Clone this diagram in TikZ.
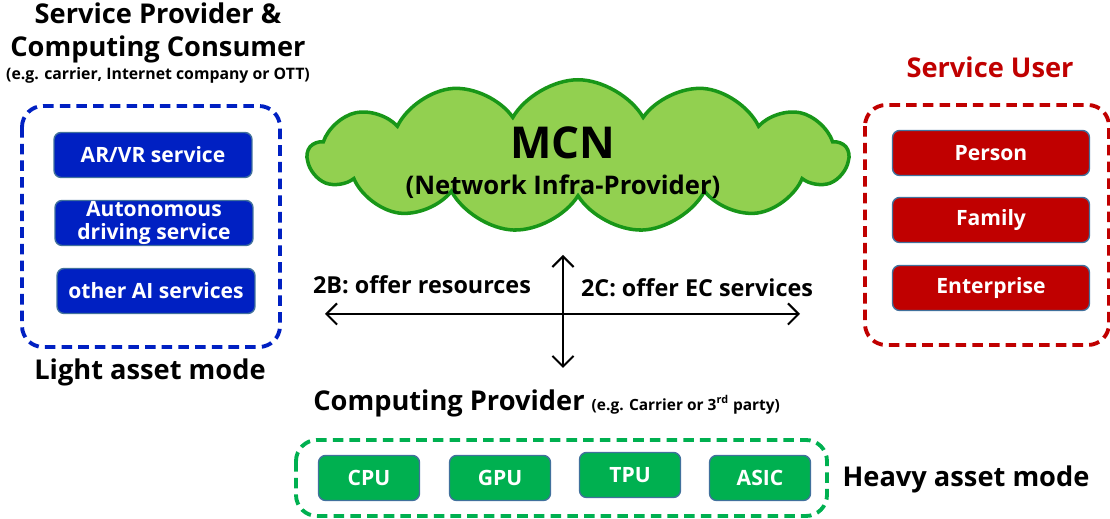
\documentclass[tikz,border=0pt]{standalone}
\usepackage{fontspec}
\setmainfont{Open Sans}
\usetikzlibrary{shapes.symbols}
\usetikzlibrary{arrows.meta}
\definecolor{svcblue}{RGB}{0,32,194}
\definecolor{userred}{RGB}{192,0,0}
\definecolor{hwgreen}{RGB}{0,176,80}
\definecolor{cloudfill}{RGB}{146,208,80}
\definecolor{cloudedge}{RGB}{24,150,24}
\definecolor{boxedge}{RGB}{65,113,156}
\tikzstyle{box}=[draw=boxedge, line width=0.8pt, rounded corners=4pt, text=white, align=center, font=\bfseries\fontsize{12}{13.5}\selectfont, minimum height=0.9cm, inner sep=0pt]
\tikzstyle{svcbox}=[box, fill=svcblue, minimum width=3.96cm]
\tikzstyle{userbox}=[box, fill=userred, minimum width=3.94cm]
\tikzstyle{hwbox}=[box, fill=hwgreen, minimum width=2.02cm]
\tikzstyle{group}=[line width=2.2pt, dash pattern=on 6pt off 3.5pt, rounded corners=12pt]
\tikzstyle{head}=[font=\bfseries\fontsize{15.5}{18.7}\selectfont, align=center]
\tikzstyle{note}=[font=\bfseries\fontsize{9}{10}\selectfont]
\tikzstyle{flowlabel}=[font=\bfseries\fontsize{13.3}{15}\selectfont]
\tikzstyle{flow}=[line width=1.2pt, {Straight Barb[length=6pt,width=12pt]}-{Straight Barb[length=6pt,width=12pt]}]

\begin{document}
\begin{tikzpicture}[x=0.02cm, y=-0.02cm]
        \useasboundingbox (0,0) rectangle (1110,519);
        % service provider side
        \node[head] (provtitle) at (158,33) {Service Provider \&\\Computing Consumer};
        \node[note] (provnote) at (158,75) {(e.g. carrier, Internet company or OTT)};
        \draw[group, draw=svcblue] (22,106) rectangle (280,347);
        \node[svcbox] (arvr) at (153,155) {AR/VR service};
        \node[svcbox] (auto) at (154,223) {Autonomous\\driving service};
        \node[svcbox] (otherai) at (156,291) {other AI services};
        \node[head] (light) at (150,372) {Light asset mode};
        % network in the middle
        \node[cloud, cloud puffs=13, cloud puff arc=120, aspect=3.6, draw=cloudedge, line width=2pt, fill=cloudfill, minimum width=10.8cm, minimum height=3.05cm, inner sep=0pt] (mcn) at (578,156) {};
        \node[font=\bfseries\fontsize{25}{30}\selectfont] (mcnname) at (563,143) {MCN};
        \node[font=\bfseries\fontsize{14.6}{16}\selectfont] (mcnrole) at (563,187) {(Network Infra-Provider)};
        \coordinate (up) at (563,255);
        \coordinate (down) at (563,368);
        \coordinate (left) at (325,314);
        \coordinate (right) at (800,314);
        \draw[flow] (up) -- (down);
        \draw[flow] (left) -- (right);
        \node[flowlabel] (tob) at (422,285) {2B: offer resources};
        \node[flowlabel] (toc) at (697,288) {2C: offer EC services};
        % computing provider
        \node[head, anchor=west, inner sep=0pt] (comptitle) at (313,403) {Computing Provider {\fontsize{8.8}{10}\selectfont (e.g. Carrier or 3\textsuperscript{rd} party)}};
        \draw[group, draw=hwgreen] (296,440) rectangle (827,516);
        \node[hwbox] (cpu) at (369,478) {CPU};
        \node[hwbox] (gpu) at (500,478) {GPU};
        \node[hwbox] (tpu) at (630,475) {TPU};
        \node[hwbox] (asic) at (760,478) {ASIC};
        \node[head] (heavy) at (966,479) {Heavy asset mode};
        % service user side
        \node[head, text=userred] (usertitle) at (990,67) {Service User};
        \draw[group, draw=userred] (865,105) rectangle (1109,345);
        \node[userbox] (person) at (991,153) {Person};
        \node[userbox] (family) at (991,220) {Family};
        \node[userbox] (enterprise) at (991,288) {Enterprise};
    \end{tikzpicture}
\end{document}
